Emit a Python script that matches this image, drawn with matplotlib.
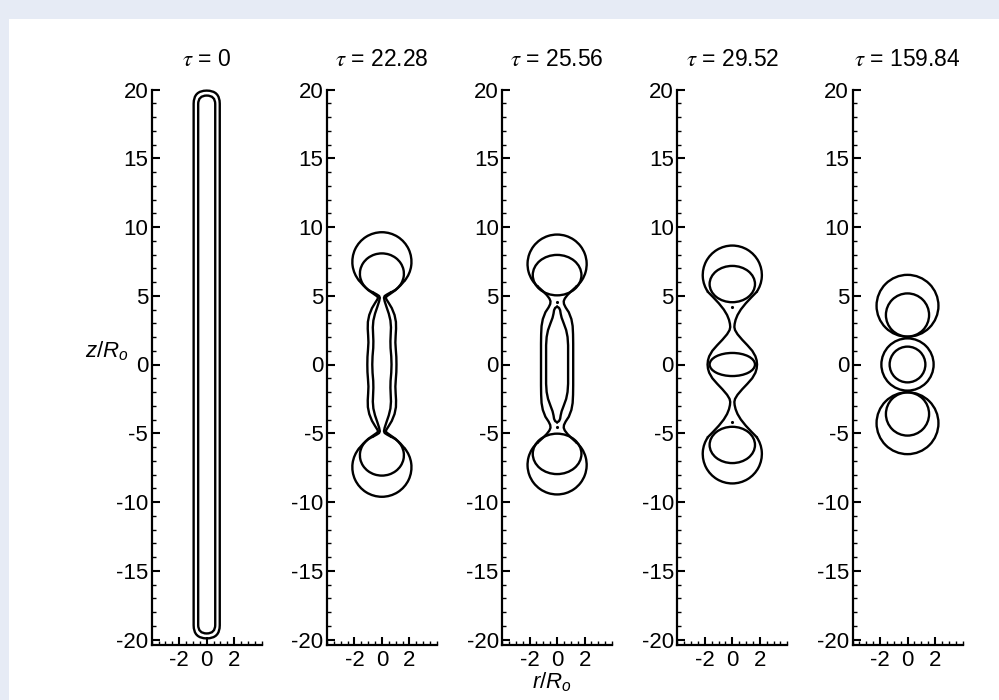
import numpy as np
import matplotlib
matplotlib.use('Agg')
import matplotlib.pyplot as plt
from matplotlib.patches import Arc, Ellipse, FancyBboxPatch, Rectangle
from matplotlib.ticker import MultipleLocator, FixedLocator

plt.rcParams['font.family'] = ['Liberation Sans', 'DejaVu Sans']
plt.rcParams['axes.unicode_minus'] = False
plt.rcParams['mathtext.fontset'] = 'custom'
plt.rcParams['mathtext.it'] = 'Liberation Sans:italic'
plt.rcParams['mathtext.rm'] = 'Liberation Sans'

taus = ['0', '22.28', '25.56', '29.52', '159.84']

# tau = 0 : outer / inner capsule (radius, top of the interface)
cap_r = [0.95, 0.62]
cap_top = [19.92, 19.56]

# lobe = [centre z, half width, half height, angle (deg) where the neck starts]
# profiles: r(z) of the right half, upper part, down to z = 0
# tau = 22.28
t2_out_lobe = [7.47, 2.15, 2.15, -40]
t2_out_z = [5.75, 5.4, 5.15, 4.98, 4.88, 4.75, 4.5, 4.1, 3.6, 3.1, 2.6, 2.1, 1.6, 1.1, 0.55, 0]
t2_out_r = [1.35, 0.98, 0.62, 0.38, 0.28, 0.32, 0.48, 0.72, 0.92, 1.02, 1.03, 1.0, 0.98, 1.01, 1.05, 1.06]
t2_in_lobe = [6.6, 1.6, 1.48, -65]
t2_in_z = [5.08, 4.98, 4.85, 4.6, 4.2, 3.7, 3.2, 2.7, 2.2, 1.7, 1.2, 0.6, 0]
t2_in_r = [0.35, 0.2, 0.15, 0.2, 0.33, 0.5, 0.62, 0.66, 0.64, 0.62, 0.63, 0.68, 0.7]

# tau = 25.56
t3_out_lobe = [7.3, 2.15, 2.15, -50]
t3_out_z = [5.35, 5.05, 4.8, 4.6, 4.4, 4.15, 3.8, 3.3, 2.8, 2.2, 1.5, 0.8, 0]
t3_out_r = [1.05, 0.75, 0.56, 0.48, 0.5, 0.62, 0.85, 1.04, 1.13, 1.16, 1.17, 1.17, 1.17]
t3_core = [6.5, 1.77, 1.47]          # inner lobe ellipse (centre z, a, b)
t3_thread_z = [4.2, 4.12, 3.95, 3.7, 3.4, 3.0, 2.5, 2.0, 1.4, 0.7, 0]
t3_thread_r = [0, 0.14, 0.22, 0.26, 0.33, 0.48, 0.66, 0.76, 0.8, 0.8, 0.8]
t3_dot = 4.58

# tau = 29.52
t4_out_lobe = [6.5, 2.15, 2.15, -35]
t4_out_z = [4.9, 4.45, 4.0, 3.6, 3.25, 2.95, 2.72, 2.5, 2.2, 1.8, 1.4, 1.0, 0.6, 0.3, 0]
t4_out_r = [1.4, 0.98, 0.62, 0.38, 0.24, 0.17, 0.15, 0.2, 0.38, 0.72, 1.1, 1.45, 1.68, 1.77, 1.8]
t4_core = [5.85, 1.65, 1.32]
t4_mid = [1.65, 0.84]
t4_dot = 4.2

# tau = 159.84 : circles (centre z, radius)
t5_out_cz = [4.27, 0, -4.27]
t5_out_rad = [2.25, 1.9, 2.25]
t5_in_cz = [3.6, 0, -3.6]
t5_in_rad = [1.57, 1.3, 1.57]

LW = 1.7
FS = 16


def lobe_end(lobe):
    cz, a, b, ang = lobe
    t = np.deg2rad(ang)
    rr = 1 / np.sqrt((np.cos(t) / a) ** 2 + (np.sin(t) / b) ** 2)
    return rr * np.cos(t), cz + rr * np.sin(t)


#兩端液滴 + 中間頸部
def draw_drop(ax, lobe, prof_r, prof_z):
    cz, a, b, ang = lobe
    ax.add_patch(Arc((0, cz), 2 * a, 2 * b, theta1=ang, theta2=180 - ang, color='k', lw=LW))
    ax.add_patch(Arc((0, -cz), 2 * a, 2 * b, theta1=ang - 180, theta2=-ang, color='k', lw=LW))
    r0, z0 = lobe_end(lobe)
    pr = np.array(prof_r)
    pz = np.array(prof_z)
    r = np.concatenate([[r0], pr, pr[-2::-1], [r0]])
    z = np.concatenate([[z0], pz, -pz[-2::-1], [-z0]])
    ax.plot(r, z, 'k', lw=LW, solid_joinstyle='round')
    ax.plot(-r, z, 'k', lw=LW, solid_joinstyle='round')


#封閉的內核 (上半剖面)
def draw_body(ax, prof_r, prof_z):
    pr = np.array(prof_r)
    pz = np.array(prof_z)
    r = np.concatenate([pr, pr[-2::-1]])
    z = np.concatenate([pz, -pz[-2::-1]])
    ax.plot(r, z, 'k', lw=LW, solid_joinstyle='round')
    ax.plot(-r, z, 'k', lw=LW, solid_joinstyle='round')


def ring(ax, cz, a, b):
    ax.add_patch(Ellipse((0, cz), 2 * a, 2 * b, fill=False, ec='k', lw=LW))


def setup(ax, tau):
    ax.set_xlim(-4, 4)
    ax.set_ylim(-20.4, 20)
    ax.set_facecolor('none')
    for s in ['top', 'right']:
        ax.spines[s].set_visible(False)
    for s in ['left', 'bottom']:
        ax.spines[s].set_linewidth(1.6)
    ax.xaxis.set_major_locator(FixedLocator([-2, 0, 2]))
    ax.xaxis.set_minor_locator(MultipleLocator(0.5))
    ax.yaxis.set_major_locator(MultipleLocator(5))
    ax.yaxis.set_minor_locator(MultipleLocator(1))
    ax.tick_params(which='both', direction='in', top=False, right=False)
    ax.tick_params(which='major', length=6, width=1.5, labelsize=FS)
    ax.tick_params(which='minor', length=3.2, width=1.0)
    ax.tick_params(axis='y', pad=2.5)
    ax.tick_params(axis='x', pad=3.5)
    ax.set_title(r'$\tau$ = ' + tau, fontsize=16.5, pad=17, math_fontfamily='stix')


W, H = 999, 700
fig = plt.figure(figsize=(W / 100, H / 100), dpi=100)
fig.patch.set_facecolor('#e6ebf5')
fig.add_artist(Rectangle((9 / W, 0), 1, 1 - 19 / H, transform=fig.transFigure,
                         fc='white', ec='none', zorder=-1))

axes = []
for i, t in enumerate(taus):
    left = 151.7 + 175.2 * i
    ax = fig.add_axes([left / W, 55 / H, 110 / W, 555.5 / H])
    setup(ax, t)
    axes.append(ax)

# tau = 0
for r, top in zip(cap_r, cap_top):
    axes[0].add_patch(FancyBboxPatch((-r, -top), 2 * r, 2 * top,
                                     boxstyle=f'round,pad=0,rounding_size={r}',
                                     fill=False, ec='k', lw=LW, clip_on=False))

# tau = 22.28
draw_drop(axes[1], t2_out_lobe, t2_out_r, t2_out_z)
draw_drop(axes[1], t2_in_lobe, t2_in_r, t2_in_z)

# tau = 25.56
draw_drop(axes[2], t3_out_lobe, t3_out_r, t3_out_z)
draw_body(axes[2], t3_thread_r, t3_thread_z)
ring(axes[2], t3_core[0], t3_core[1], t3_core[2])
ring(axes[2], -t3_core[0], t3_core[1], t3_core[2])
axes[2].plot([0, 0], [t3_dot, -t3_dot], 'k.', ms=2.5)

# tau = 29.52
draw_drop(axes[3], t4_out_lobe, t4_out_r, t4_out_z)
ring(axes[3], t4_core[0], t4_core[1], t4_core[2])
ring(axes[3], -t4_core[0], t4_core[1], t4_core[2])
ring(axes[3], 0, t4_mid[0], t4_mid[1])
axes[3].plot([0, 0], [t4_dot, -t4_dot], 'k.', ms=2.5)

# tau = 159.84
for cz, rad in zip(t5_out_cz, t5_out_rad):
    ring(axes[4], cz, rad, rad)
for cz, rad in zip(t5_in_cz, t5_in_rad):
    ring(axes[4], cz, rad, rad)

fig.text(129 / W, 1 - 357 / H, r'$z/R_o$', fontsize=FS, ha='right', va='baseline')
fig.text(552 / W, 1 - 688 / H, r'$r/R_o$', fontsize=FS, ha='center', va='baseline')

fig.savefig('out.png', dpi=100, facecolor=fig.get_facecolor())
